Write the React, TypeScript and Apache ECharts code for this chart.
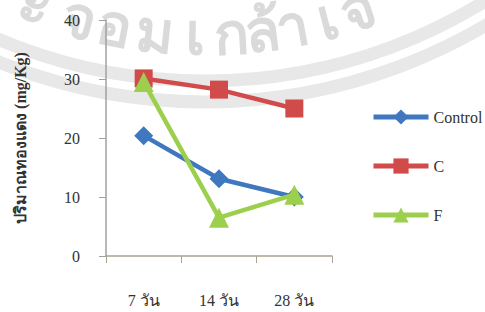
import React, { useEffect, useRef } from "react";
import * as echarts from "echarts";

const categories = ["7 วัน", "14 วัน", "28 วัน"];
const controlValues = [20.4, 13.1, 10.0];
const cValues = [30.1, 28.2, 25.0];
const fValues = [29.5, 6.5, 10.4];
const seriesNames = ["Control", "C", "F"];
const yMin = 0;
const yMax = 40;
const yStep = 10;
const yTitle = "ปริมาณทองแดง (mg/Kg)";
const watermarkChars = ["ะ", "จ", "อ", "ม", "เ", "ก", "ล้", "า", "เ", "จ"];

const SERIF = "'Liberation Serif', 'Times New Roman', serif";

export default function App() {
  const ref = useRef<HTMLDivElement>(null);

  useEffect(() => {
    if (!ref.current) return;
    const chart = echarts.init(ref.current, undefined, { renderer: "svg" });

    // watermark: text and bands along a large circle
    const cx = 205;
    const cy = -450;
    const charX = [36, 80, 115, 155, 195, 231, 262, 292, 327, 357];
    const rText = 482;
    const wmText = watermarkChars.map((ch, i) => {
      const dx = charX[i] - cx;
      const th = Math.asin(dx / rText);
      return {
        type: "text",
        x: cx + rText * Math.sin(th),
        y: cy + rText * Math.cos(th),
        rotation: th,
        z: -10,
        silent: true,
        style: {
          text: ch,
          fill: "#dadada",
          font: "bold 58px 'Noto Sans', 'DejaVu Sans', sans-serif",
          align: "center",
          verticalAlign: "middle",
        },
      };
    });
    const bands = [531, 552].map((r) => ({
      type: "arc",
      z: -10,
      silent: true,
      shape: { cx, cy, r, startAngle: Math.PI / 2 - 0.7, endAngle: Math.PI / 2 + 0.7 },
      style: { stroke: "#e8e8e8", lineWidth: 13, fill: "none" },
    }));

    const colors = ["#3f78bf", "#d24b4b", "#9cd04c"];
    const symbols = ["diamond", "rect", "triangle"];
    const sizes = [19, 18, 20];
    const data = [controlValues, cValues, fValues];

    chart.setOption({
      animation: false,
      graphic: [...bands, ...wmText],
      grid: { left: 106, right: 153, top: 20, bottom: 56 },
      legend: {
        orient: "vertical",
        left: 366,
        top: 104,
        itemWidth: 55,
        itemHeight: 19,
        itemGap: 33,
        itemStyle: { borderWidth: 0 },
        lineStyle: { width: 5 },
        textStyle: { fontFamily: SERIF, fontSize: 16, color: "#333" },
        data: seriesNames,
      },
      xAxis: {
        type: "category",
        data: categories,
        boundaryGap: true,
        axisLine: { lineStyle: { color: "#a9a393", width: 1.5 } },
        axisTick: { show: true, length: 7, lineStyle: { color: "#a9a393" } },
        axisLabel: { margin: 36, fontFamily: SERIF, fontSize: 16, color: "#333" },
      },
      yAxis: {
        type: "value",
        min: yMin,
        max: yMax,
        interval: yStep,
        name: yTitle,
        nameLocation: "middle",
        nameGap: 78,
        nameTextStyle: { fontFamily: SERIF, fontSize: 16, fontWeight: "bold", color: "#333" },
        axisLine: { show: true, lineStyle: { color: "#a0a0a0", width: 1.5 } },
        axisTick: { show: true, length: 7, lineStyle: { color: "#a0a0a0" } },
        splitLine: { show: false },
        axisLabel: { margin: 26, fontFamily: SERIF, fontSize: 16, color: "#333" },
      },
      series: seriesNames.map((name, i) => ({
        name,
        type: "line",
        data: data[i],
        symbol: symbols[i],
        symbolSize: sizes[i],
        showSymbol: true,
        lineStyle: { color: colors[i], width: 4.5 },
        itemStyle: { color: colors[i] },
        z: 2 + i,
      })),
    });

    return () => chart.dispose();
  }, []);

  return (
    <div
      ref={ref}
      style={{ position: "fixed", left: 0, top: 0, width: 485, height: 312, background: "#fff" }}
    />
  );
}
